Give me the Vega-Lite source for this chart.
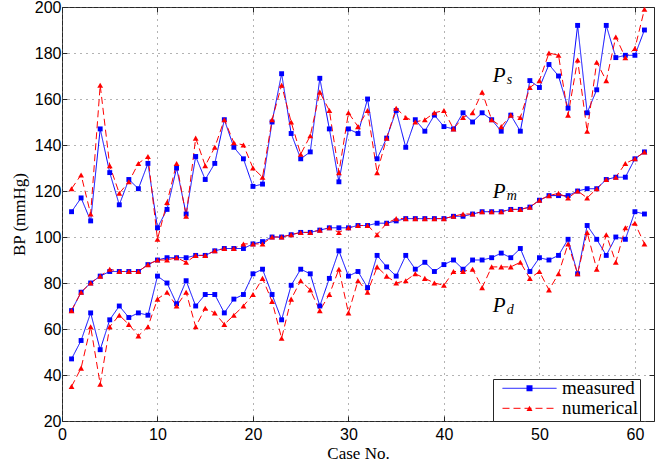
{
  "$schema": "https://vega.github.io/schema/vega-lite/v6.json",
  "width": 592,
  "height": 414,
  "autosize": {"type": "none"},
  "padding": {"left": 62, "top": 7, "right": 1, "bottom": 43},
  "background": "white",
  "config": {"font": "Liberation Serif", "view": {"stroke": "#262626", "strokeWidth": 1}, "legend": {"labelFont": "Liberation Serif"}},
  "datasets": {
    "bp": [
      {"case":1,"series":"Ps","source":"measured","bp":111},{"case":2,"series":"Ps","source":"measured","bp":117},{"case":3,"series":"Ps","source":"measured","bp":107},{"case":4,"series":"Ps","source":"measured","bp":147},{"case":5,"series":"Ps","source":"measured","bp":128},{"case":6,"series":"Ps","source":"measured","bp":114},{"case":7,"series":"Ps","source":"measured","bp":125},{"case":8,"series":"Ps","source":"measured","bp":121},{"case":9,"series":"Ps","source":"measured","bp":132},{"case":10,"series":"Ps","source":"measured","bp":104},
      {"case":11,"series":"Ps","source":"measured","bp":112},{"case":12,"series":"Ps","source":"measured","bp":130},{"case":13,"series":"Ps","source":"measured","bp":110},{"case":14,"series":"Ps","source":"measured","bp":135},{"case":15,"series":"Ps","source":"measured","bp":125},{"case":16,"series":"Ps","source":"measured","bp":132},{"case":17,"series":"Ps","source":"measured","bp":151},{"case":18,"series":"Ps","source":"measured","bp":139},{"case":19,"series":"Ps","source":"measured","bp":134},{"case":20,"series":"Ps","source":"measured","bp":122},
      {"case":21,"series":"Ps","source":"measured","bp":123},{"case":22,"series":"Ps","source":"measured","bp":150},{"case":23,"series":"Ps","source":"measured","bp":171},{"case":24,"series":"Ps","source":"measured","bp":145},{"case":25,"series":"Ps","source":"measured","bp":134},{"case":26,"series":"Ps","source":"measured","bp":137},{"case":27,"series":"Ps","source":"measured","bp":169},{"case":28,"series":"Ps","source":"measured","bp":147},{"case":29,"series":"Ps","source":"measured","bp":124},{"case":30,"series":"Ps","source":"measured","bp":147},
      {"case":31,"series":"Ps","source":"measured","bp":145},{"case":32,"series":"Ps","source":"measured","bp":160},{"case":33,"series":"Ps","source":"measured","bp":134},{"case":34,"series":"Ps","source":"measured","bp":143},{"case":35,"series":"Ps","source":"measured","bp":155},{"case":36,"series":"Ps","source":"measured","bp":139},{"case":37,"series":"Ps","source":"measured","bp":151},{"case":38,"series":"Ps","source":"measured","bp":146},{"case":39,"series":"Ps","source":"measured","bp":153},{"case":40,"series":"Ps","source":"measured","bp":148},
      {"case":41,"series":"Ps","source":"measured","bp":147},{"case":42,"series":"Ps","source":"measured","bp":154},{"case":43,"series":"Ps","source":"measured","bp":150},{"case":44,"series":"Ps","source":"measured","bp":154},{"case":45,"series":"Ps","source":"measured","bp":151},{"case":46,"series":"Ps","source":"measured","bp":146},{"case":47,"series":"Ps","source":"measured","bp":153},{"case":48,"series":"Ps","source":"measured","bp":146},{"case":49,"series":"Ps","source":"measured","bp":168},{"case":50,"series":"Ps","source":"measured","bp":165},
      {"case":51,"series":"Ps","source":"measured","bp":175},{"case":52,"series":"Ps","source":"measured","bp":170},{"case":53,"series":"Ps","source":"measured","bp":156},{"case":54,"series":"Ps","source":"measured","bp":192},{"case":55,"series":"Ps","source":"measured","bp":154},{"case":56,"series":"Ps","source":"measured","bp":164},{"case":57,"series":"Ps","source":"measured","bp":192},{"case":58,"series":"Ps","source":"measured","bp":178},{"case":59,"series":"Ps","source":"measured","bp":179},{"case":60,"series":"Ps","source":"measured","bp":179},{"case":61,"series":"Ps","source":"measured","bp":190},

      {"case":1,"series":"Pm","source":"measured","bp":68},{"case":2,"series":"Pm","source":"measured","bp":76},{"case":3,"series":"Pm","source":"measured","bp":80},{"case":4,"series":"Pm","source":"measured","bp":83},{"case":5,"series":"Pm","source":"measured","bp":85},{"case":6,"series":"Pm","source":"measured","bp":85},{"case":7,"series":"Pm","source":"measured","bp":85},{"case":8,"series":"Pm","source":"measured","bp":85},{"case":9,"series":"Pm","source":"measured","bp":88},{"case":10,"series":"Pm","source":"measured","bp":90},
      {"case":11,"series":"Pm","source":"measured","bp":91},{"case":12,"series":"Pm","source":"measured","bp":91},{"case":13,"series":"Pm","source":"measured","bp":91},{"case":14,"series":"Pm","source":"measured","bp":92},{"case":15,"series":"Pm","source":"measured","bp":92},{"case":16,"series":"Pm","source":"measured","bp":94},{"case":17,"series":"Pm","source":"measured","bp":95},{"case":18,"series":"Pm","source":"measured","bp":95},{"case":19,"series":"Pm","source":"measured","bp":95},{"case":20,"series":"Pm","source":"measured","bp":97},
      {"case":21,"series":"Pm","source":"measured","bp":98},{"case":22,"series":"Pm","source":"measured","bp":100},{"case":23,"series":"Pm","source":"measured","bp":100},{"case":24,"series":"Pm","source":"measured","bp":101},{"case":25,"series":"Pm","source":"measured","bp":102},{"case":26,"series":"Pm","source":"measured","bp":102},{"case":27,"series":"Pm","source":"measured","bp":103},{"case":28,"series":"Pm","source":"measured","bp":104},{"case":29,"series":"Pm","source":"measured","bp":104},{"case":30,"series":"Pm","source":"measured","bp":104},
      {"case":31,"series":"Pm","source":"measured","bp":105},{"case":32,"series":"Pm","source":"measured","bp":105},{"case":33,"series":"Pm","source":"measured","bp":106},{"case":34,"series":"Pm","source":"measured","bp":106},{"case":35,"series":"Pm","source":"measured","bp":107},{"case":36,"series":"Pm","source":"measured","bp":108},{"case":37,"series":"Pm","source":"measured","bp":108},{"case":38,"series":"Pm","source":"measured","bp":108},{"case":39,"series":"Pm","source":"measured","bp":108},{"case":40,"series":"Pm","source":"measured","bp":108},
      {"case":41,"series":"Pm","source":"measured","bp":109},{"case":42,"series":"Pm","source":"measured","bp":109},{"case":43,"series":"Pm","source":"measured","bp":110},{"case":44,"series":"Pm","source":"measured","bp":111},{"case":45,"series":"Pm","source":"measured","bp":111},{"case":46,"series":"Pm","source":"measured","bp":111},{"case":47,"series":"Pm","source":"measured","bp":112},{"case":48,"series":"Pm","source":"measured","bp":112},{"case":49,"series":"Pm","source":"measured","bp":113},{"case":50,"series":"Pm","source":"measured","bp":116},
      {"case":51,"series":"Pm","source":"measured","bp":118},{"case":52,"series":"Pm","source":"measured","bp":118},{"case":53,"series":"Pm","source":"measured","bp":118},{"case":54,"series":"Pm","source":"measured","bp":120},{"case":55,"series":"Pm","source":"measured","bp":121},{"case":56,"series":"Pm","source":"measured","bp":121},{"case":57,"series":"Pm","source":"measured","bp":125},{"case":58,"series":"Pm","source":"measured","bp":126},{"case":59,"series":"Pm","source":"measured","bp":126},{"case":60,"series":"Pm","source":"measured","bp":134},{"case":61,"series":"Pm","source":"measured","bp":137},

      {"case":1,"series":"Pd","source":"measured","bp":47},{"case":2,"series":"Pd","source":"measured","bp":55},{"case":3,"series":"Pd","source":"measured","bp":67},{"case":4,"series":"Pd","source":"measured","bp":51},{"case":5,"series":"Pd","source":"measured","bp":64},{"case":6,"series":"Pd","source":"measured","bp":70},{"case":7,"series":"Pd","source":"measured","bp":65},{"case":8,"series":"Pd","source":"measured","bp":67},{"case":9,"series":"Pd","source":"measured","bp":66},{"case":10,"series":"Pd","source":"measured","bp":83},
      {"case":11,"series":"Pd","source":"measured","bp":80},{"case":12,"series":"Pd","source":"measured","bp":71},{"case":13,"series":"Pd","source":"measured","bp":81},{"case":14,"series":"Pd","source":"measured","bp":70},{"case":15,"series":"Pd","source":"measured","bp":75},{"case":16,"series":"Pd","source":"measured","bp":75},{"case":17,"series":"Pd","source":"measured","bp":67},{"case":18,"series":"Pd","source":"measured","bp":73},{"case":19,"series":"Pd","source":"measured","bp":75},{"case":20,"series":"Pd","source":"measured","bp":84},
      {"case":21,"series":"Pd","source":"measured","bp":86},{"case":22,"series":"Pd","source":"measured","bp":75},{"case":23,"series":"Pd","source":"measured","bp":64},{"case":24,"series":"Pd","source":"measured","bp":79},{"case":25,"series":"Pd","source":"measured","bp":86},{"case":26,"series":"Pd","source":"measured","bp":84},{"case":27,"series":"Pd","source":"measured","bp":70},{"case":28,"series":"Pd","source":"measured","bp":82},{"case":29,"series":"Pd","source":"measured","bp":94},{"case":30,"series":"Pd","source":"measured","bp":83},
      {"case":31,"series":"Pd","source":"measured","bp":85},{"case":32,"series":"Pd","source":"measured","bp":78},{"case":33,"series":"Pd","source":"measured","bp":92},{"case":34,"series":"Pd","source":"measured","bp":87},{"case":35,"series":"Pd","source":"measured","bp":83},{"case":36,"series":"Pd","source":"measured","bp":92},{"case":37,"series":"Pd","source":"measured","bp":86},{"case":38,"series":"Pd","source":"measured","bp":89},{"case":39,"series":"Pd","source":"measured","bp":85},{"case":40,"series":"Pd","source":"measured","bp":88},
      {"case":41,"series":"Pd","source":"measured","bp":90},{"case":42,"series":"Pd","source":"measured","bp":86},{"case":43,"series":"Pd","source":"measured","bp":90},{"case":44,"series":"Pd","source":"measured","bp":90},{"case":45,"series":"Pd","source":"measured","bp":91},{"case":46,"series":"Pd","source":"measured","bp":93},{"case":47,"series":"Pd","source":"measured","bp":91},{"case":48,"series":"Pd","source":"measured","bp":95},{"case":49,"series":"Pd","source":"measured","bp":85},{"case":50,"series":"Pd","source":"measured","bp":91},
      {"case":51,"series":"Pd","source":"measured","bp":90},{"case":52,"series":"Pd","source":"measured","bp":92},{"case":53,"series":"Pd","source":"measured","bp":99},{"case":54,"series":"Pd","source":"measured","bp":84},{"case":55,"series":"Pd","source":"measured","bp":105},{"case":56,"series":"Pd","source":"measured","bp":99},{"case":57,"series":"Pd","source":"measured","bp":92},{"case":58,"series":"Pd","source":"measured","bp":100},{"case":59,"series":"Pd","source":"measured","bp":99},{"case":60,"series":"Pd","source":"measured","bp":111},{"case":61,"series":"Pd","source":"measured","bp":110},

      {"case":1,"series":"Ps","source":"numerical","bp":121},{"case":2,"series":"Ps","source":"numerical","bp":127},{"case":3,"series":"Ps","source":"numerical","bp":110},{"case":4,"series":"Ps","source":"numerical","bp":166},{"case":5,"series":"Ps","source":"numerical","bp":131},{"case":6,"series":"Ps","source":"numerical","bp":119},{"case":7,"series":"Ps","source":"numerical","bp":124},{"case":8,"series":"Ps","source":"numerical","bp":132},{"case":9,"series":"Ps","source":"numerical","bp":135},{"case":10,"series":"Ps","source":"numerical","bp":99},
      {"case":11,"series":"Ps","source":"numerical","bp":115},{"case":12,"series":"Ps","source":"numerical","bp":132},{"case":13,"series":"Ps","source":"numerical","bp":109},{"case":14,"series":"Ps","source":"numerical","bp":143},{"case":15,"series":"Ps","source":"numerical","bp":131},{"case":16,"series":"Ps","source":"numerical","bp":139},{"case":17,"series":"Ps","source":"numerical","bp":151},{"case":18,"series":"Ps","source":"numerical","bp":141},{"case":19,"series":"Ps","source":"numerical","bp":140},{"case":20,"series":"Ps","source":"numerical","bp":130},
      {"case":21,"series":"Ps","source":"numerical","bp":126},{"case":22,"series":"Ps","source":"numerical","bp":151},{"case":23,"series":"Ps","source":"numerical","bp":166},{"case":24,"series":"Ps","source":"numerical","bp":150},{"case":25,"series":"Ps","source":"numerical","bp":136},{"case":26,"series":"Ps","source":"numerical","bp":144},{"case":27,"series":"Ps","source":"numerical","bp":163},{"case":28,"series":"Ps","source":"numerical","bp":155},{"case":29,"series":"Ps","source":"numerical","bp":128},{"case":30,"series":"Ps","source":"numerical","bp":154},
      {"case":31,"series":"Ps","source":"numerical","bp":148},{"case":32,"series":"Ps","source":"numerical","bp":155},{"case":33,"series":"Ps","source":"numerical","bp":128},{"case":34,"series":"Ps","source":"numerical","bp":143},{"case":35,"series":"Ps","source":"numerical","bp":156},{"case":36,"series":"Ps","source":"numerical","bp":152},{"case":37,"series":"Ps","source":"numerical","bp":150},{"case":38,"series":"Ps","source":"numerical","bp":151},{"case":39,"series":"Ps","source":"numerical","bp":154},{"case":40,"series":"Ps","source":"numerical","bp":155},
      {"case":41,"series":"Ps","source":"numerical","bp":147},{"case":42,"series":"Ps","source":"numerical","bp":152},{"case":43,"series":"Ps","source":"numerical","bp":154},{"case":44,"series":"Ps","source":"numerical","bp":163},{"case":45,"series":"Ps","source":"numerical","bp":151},{"case":46,"series":"Ps","source":"numerical","bp":148},{"case":47,"series":"Ps","source":"numerical","bp":153},{"case":48,"series":"Ps","source":"numerical","bp":152},{"case":49,"series":"Ps","source":"numerical","bp":165},{"case":50,"series":"Ps","source":"numerical","bp":168},
      {"case":51,"series":"Ps","source":"numerical","bp":180},{"case":52,"series":"Ps","source":"numerical","bp":179},{"case":53,"series":"Ps","source":"numerical","bp":153},{"case":54,"series":"Ps","source":"numerical","bp":177},{"case":55,"series":"Ps","source":"numerical","bp":146},{"case":56,"series":"Ps","source":"numerical","bp":176},{"case":57,"series":"Ps","source":"numerical","bp":168},{"case":58,"series":"Ps","source":"numerical","bp":187},{"case":59,"series":"Ps","source":"numerical","bp":178},{"case":60,"series":"Ps","source":"numerical","bp":182},{"case":61,"series":"Ps","source":"numerical","bp":199},

      {"case":1,"series":"Pm","source":"numerical","bp":68},{"case":2,"series":"Pm","source":"numerical","bp":76},{"case":3,"series":"Pm","source":"numerical","bp":80},{"case":4,"series":"Pm","source":"numerical","bp":83},{"case":5,"series":"Pm","source":"numerical","bp":86},{"case":6,"series":"Pm","source":"numerical","bp":85},{"case":7,"series":"Pm","source":"numerical","bp":85},{"case":8,"series":"Pm","source":"numerical","bp":85},{"case":9,"series":"Pm","source":"numerical","bp":88},{"case":10,"series":"Pm","source":"numerical","bp":90},
      {"case":11,"series":"Pm","source":"numerical","bp":90},{"case":12,"series":"Pm","source":"numerical","bp":91},{"case":13,"series":"Pm","source":"numerical","bp":89},{"case":14,"series":"Pm","source":"numerical","bp":92},{"case":15,"series":"Pm","source":"numerical","bp":92},{"case":16,"series":"Pm","source":"numerical","bp":94},{"case":17,"series":"Pm","source":"numerical","bp":95},{"case":18,"series":"Pm","source":"numerical","bp":95},{"case":19,"series":"Pm","source":"numerical","bp":97},{"case":20,"series":"Pm","source":"numerical","bp":97},
      {"case":21,"series":"Pm","source":"numerical","bp":97},{"case":22,"series":"Pm","source":"numerical","bp":100},{"case":23,"series":"Pm","source":"numerical","bp":100},{"case":24,"series":"Pm","source":"numerical","bp":101},{"case":25,"series":"Pm","source":"numerical","bp":102},{"case":26,"series":"Pm","source":"numerical","bp":102},{"case":27,"series":"Pm","source":"numerical","bp":103},{"case":28,"series":"Pm","source":"numerical","bp":104},{"case":29,"series":"Pm","source":"numerical","bp":102},{"case":30,"series":"Pm","source":"numerical","bp":104},
      {"case":31,"series":"Pm","source":"numerical","bp":105},{"case":32,"series":"Pm","source":"numerical","bp":105},{"case":33,"series":"Pm","source":"numerical","bp":101},{"case":34,"series":"Pm","source":"numerical","bp":106},{"case":35,"series":"Pm","source":"numerical","bp":108},{"case":36,"series":"Pm","source":"numerical","bp":108},{"case":37,"series":"Pm","source":"numerical","bp":108},{"case":38,"series":"Pm","source":"numerical","bp":108},{"case":39,"series":"Pm","source":"numerical","bp":108},{"case":40,"series":"Pm","source":"numerical","bp":108},
      {"case":41,"series":"Pm","source":"numerical","bp":109},{"case":42,"series":"Pm","source":"numerical","bp":110},{"case":43,"series":"Pm","source":"numerical","bp":110},{"case":44,"series":"Pm","source":"numerical","bp":111},{"case":45,"series":"Pm","source":"numerical","bp":111},{"case":46,"series":"Pm","source":"numerical","bp":111},{"case":47,"series":"Pm","source":"numerical","bp":112},{"case":48,"series":"Pm","source":"numerical","bp":112},{"case":49,"series":"Pm","source":"numerical","bp":113},{"case":50,"series":"Pm","source":"numerical","bp":116},
      {"case":51,"series":"Pm","source":"numerical","bp":118},{"case":52,"series":"Pm","source":"numerical","bp":119},{"case":53,"series":"Pm","source":"numerical","bp":117},{"case":54,"series":"Pm","source":"numerical","bp":120},{"case":55,"series":"Pm","source":"numerical","bp":117},{"case":56,"series":"Pm","source":"numerical","bp":121},{"case":57,"series":"Pm","source":"numerical","bp":125},{"case":58,"series":"Pm","source":"numerical","bp":126},{"case":59,"series":"Pm","source":"numerical","bp":132},{"case":60,"series":"Pm","source":"numerical","bp":134},{"case":61,"series":"Pm","source":"numerical","bp":137},

      {"case":1,"series":"Pd","source":"numerical","bp":35},{"case":2,"series":"Pd","source":"numerical","bp":43},{"case":3,"series":"Pd","source":"numerical","bp":61},{"case":4,"series":"Pd","source":"numerical","bp":36},{"case":5,"series":"Pd","source":"numerical","bp":61},{"case":6,"series":"Pd","source":"numerical","bp":66},{"case":7,"series":"Pd","source":"numerical","bp":62},{"case":8,"series":"Pd","source":"numerical","bp":57},{"case":9,"series":"Pd","source":"numerical","bp":61},{"case":10,"series":"Pd","source":"numerical","bp":73},
      {"case":11,"series":"Pd","source":"numerical","bp":76},{"case":12,"series":"Pd","source":"numerical","bp":70},{"case":13,"series":"Pd","source":"numerical","bp":76},{"case":14,"series":"Pd","source":"numerical","bp":61},{"case":15,"series":"Pd","source":"numerical","bp":69},{"case":16,"series":"Pd","source":"numerical","bp":67},{"case":17,"series":"Pd","source":"numerical","bp":62},{"case":18,"series":"Pd","source":"numerical","bp":66},{"case":19,"series":"Pd","source":"numerical","bp":70},{"case":20,"series":"Pd","source":"numerical","bp":75},
      {"case":21,"series":"Pd","source":"numerical","bp":82},{"case":22,"series":"Pd","source":"numerical","bp":72},{"case":23,"series":"Pd","source":"numerical","bp":56},{"case":24,"series":"Pd","source":"numerical","bp":73},{"case":25,"series":"Pd","source":"numerical","bp":81},{"case":26,"series":"Pd","source":"numerical","bp":77},{"case":27,"series":"Pd","source":"numerical","bp":68},{"case":28,"series":"Pd","source":"numerical","bp":75},{"case":29,"series":"Pd","source":"numerical","bp":86},{"case":30,"series":"Pd","source":"numerical","bp":67},
      {"case":31,"series":"Pd","source":"numerical","bp":81},{"case":32,"series":"Pd","source":"numerical","bp":76},{"case":33,"series":"Pd","source":"numerical","bp":87},{"case":34,"series":"Pd","source":"numerical","bp":83},{"case":35,"series":"Pd","source":"numerical","bp":80},{"case":36,"series":"Pd","source":"numerical","bp":81},{"case":37,"series":"Pd","source":"numerical","bp":84},{"case":38,"series":"Pd","source":"numerical","bp":82},{"case":39,"series":"Pd","source":"numerical","bp":80},{"case":40,"series":"Pd","source":"numerical","bp":79},
      {"case":41,"series":"Pd","source":"numerical","bp":85},{"case":42,"series":"Pd","source":"numerical","bp":85},{"case":43,"series":"Pd","source":"numerical","bp":86},{"case":44,"series":"Pd","source":"numerical","bp":78},{"case":45,"series":"Pd","source":"numerical","bp":87},{"case":46,"series":"Pd","source":"numerical","bp":87},{"case":47,"series":"Pd","source":"numerical","bp":87},{"case":48,"series":"Pd","source":"numerical","bp":89},{"case":49,"series":"Pd","source":"numerical","bp":82},{"case":50,"series":"Pd","source":"numerical","bp":85},
      {"case":51,"series":"Pd","source":"numerical","bp":77},{"case":52,"series":"Pd","source":"numerical","bp":84},{"case":53,"series":"Pd","source":"numerical","bp":97},{"case":54,"series":"Pd","source":"numerical","bp":84},{"case":55,"series":"Pd","source":"numerical","bp":102},{"case":56,"series":"Pd","source":"numerical","bp":86},{"case":57,"series":"Pd","source":"numerical","bp":101},{"case":58,"series":"Pd","source":"numerical","bp":89},{"case":59,"series":"Pd","source":"numerical","bp":104},{"case":60,"series":"Pd","source":"numerical","bp":106},{"case":61,"series":"Pd","source":"numerical","bp":97}
    ],
    "labels": [
      {"case": 45.1, "bp": 167.4, "main": "P", "sub": "s"},
      {"case": 45.1, "bp": 117.0, "main": "P", "sub": "m"},
      {"case": 45.1, "bp": 67.4, "main": "P", "sub": "d"}
    ]
  },
  "data": {"name": "bp"},
  "layer": [
    {
      "mark": {"type": "line", "strokeWidth": 1},
      "encoding": {
        "x": {
          "field": "case", "type": "quantitative",
          "scale": {"domain": [0, 62], "nice": false, "zero": false},
          "axis": {
            "values": [0, 10, 20, 30, 40, 50, 60], "title": "Case No.",
            "grid": true, "gridColor": "#666666", "gridDash": [1, 5], "gridWidth": 1,
            "domain": false, "tickSize": -5, "tickColor": "#262626",
            "labelFont": "Liberation Sans", "labelFontSize": 16, "labelColor": "black", "labelPadding": 10, "labelFlush": false,
            "titleFont": "Liberation Serif", "titleFontSize": 17, "titleFontWeight": "normal", "titleColor": "black", "titlePadding": 3
          }
        },
        "y": {
          "field": "bp", "type": "quantitative",
          "scale": {"domain": [20, 200], "nice": false, "zero": false},
          "axis": {
            "values": [20, 40, 60, 80, 100, 120, 140, 160, 180, 200], "title": "BP (mmHg)",
            "grid": true, "gridColor": "#666666", "gridDash": [1, 5], "gridWidth": 1,
            "domain": false, "tickSize": -5, "tickColor": "#262626",
            "labelFont": "Liberation Sans", "labelFontSize": 16, "labelColor": "black", "labelPadding": 6, "labelFlush": false,
            "titleFont": "Liberation Serif", "titleFontSize": 17, "titleFontWeight": "normal", "titleColor": "black", "titlePadding": 6
          }
        },
        "detail": {"field": "series"},
        "stroke": {
          "field": "source", "type": "nominal",
          "scale": {"domain": ["measured", "numerical"], "range": ["#0000ff", "#ff0000"]},
          "legend": {"title": null, "orient": "none", "legendX": 431, "legendY": 372, "symbolType": "M-9,0H9", "symbolSize": 36, "symbolStrokeWidth": 1, "symbolOffset": 25, "labelOffset": 23, "labelFont": "Liberation Serif", "labelFontSize": 19, "labelColor": "black", "padding": 2, "rowPadding": 0, "clipHeight": 14.6, "labelLimit": 200, "strokeColor": "#262626", "fillColor": "white"}
        },
        "strokeDash": {
          "field": "source", "type": "nominal",
          "scale": {"domain": ["measured", "numerical"], "range": [[1, 0], [7, 4]]},
          "legend": {"title": null, "orient": "none", "legendX": 431, "legendY": 372, "symbolType": "M-9,0H9", "symbolSize": 36, "symbolStrokeWidth": 1, "symbolOffset": 25, "labelOffset": 23, "labelFont": "Liberation Serif", "labelFontSize": 19, "labelColor": "black", "padding": 2, "rowPadding": 0, "clipHeight": 14.6, "labelLimit": 200, "strokeColor": "#262626", "fillColor": "white"}
        }
      }
    },
    {
      "transform": [{"filter": {"field": "source", "equal": "measured"}}],
      "mark": {"type": "point", "filled": true, "opacity": 1, "strokeWidth": 0, "size": 24},
      "encoding": {
        "x": {"field": "case", "type": "quantitative", "axis": null},
        "y": {"field": "bp", "type": "quantitative", "axis": null},
        "fill": {
          "field": "source", "type": "nominal",
          "scale": {"range": ["#0000ff", "#ff0000"]},
          "legend": {"title": null, "orient": "none", "legendX": 431, "legendY": 372, "symbolSize": 36, "symbolStrokeWidth": 0, "symbolOffset": 25, "labelOffset": 23, "labelExpr": "''", "labelFontSize": 19, "padding": 2, "rowPadding": 0, "clipHeight": 14.6}
        },
        "shape": {
          "field": "source", "type": "nominal",
          "scale": {"range": ["square", "triangle-up"]},
          "legend": {"title": null, "orient": "none", "legendX": 431, "legendY": 372, "symbolSize": 36, "symbolStrokeWidth": 0, "symbolOffset": 25, "labelOffset": 23, "labelExpr": "''", "labelFontSize": 19, "padding": 2, "rowPadding": 0, "clipHeight": 14.6}
        }
      }
    },
    {
      "transform": [{"filter": {"field": "source", "equal": "numerical"}}],
      "mark": {"type": "point", "filled": true, "opacity": 1, "strokeWidth": 0, "size": 34},
      "encoding": {
        "x": {"field": "case", "type": "quantitative", "axis": null},
        "y": {"field": "bp", "type": "quantitative", "axis": null},
        "fill": {
          "field": "source", "type": "nominal",
          "legend": {"title": null, "orient": "none", "legendX": 431, "legendY": 372, "symbolSize": 36, "symbolStrokeWidth": 0, "symbolOffset": 25, "labelOffset": 23, "labelExpr": "''", "labelFontSize": 19, "padding": 2, "rowPadding": 0, "clipHeight": 14.6}
        },
        "shape": {
          "field": "source", "type": "nominal",
          "legend": {"title": null, "orient": "none", "legendX": 431, "legendY": 372, "symbolSize": 36, "symbolStrokeWidth": 0, "symbolOffset": 25, "labelOffset": 23, "labelExpr": "''", "labelFontSize": 19, "padding": 2, "rowPadding": 0, "clipHeight": 14.6}
        }
      }
    },
    {
      "data": {"name": "labels"},
      "mark": {"type": "text", "font": "Liberation Serif", "fontStyle": "italic", "fontSize": 21, "align": "left", "baseline": "alphabetic", "color": "black"},
      "encoding": {
        "x": {"field": "case", "type": "quantitative", "axis": {"orient": "top", "values": [0, 10, 20, 30, 40, 50, 60], "labels": false, "title": null, "grid": false, "domain": false, "tickSize": -5, "tickColor": "#262626"}},
        "y": {"field": "bp", "type": "quantitative", "axis": {"orient": "right", "values": [20, 40, 60, 80, 100, 120, 140, 160, 180, 200], "labels": false, "title": null, "grid": false, "domain": false, "tickSize": -5, "tickColor": "#262626"}},
        "text": {"field": "main"}
      }
    },
    {
      "data": {"name": "labels"},
      "mark": {"type": "text", "font": "Liberation Serif", "fontStyle": "italic", "fontSize": 14, "align": "left", "baseline": "alphabetic", "dx": 14, "dy": 2, "color": "black"},
      "encoding": {
        "x": {"field": "case", "type": "quantitative", "axis": null},
        "y": {"field": "bp", "type": "quantitative", "axis": null},
        "text": {"field": "sub"}
      }
    }
  ],
  "resolve": {"axis": {"x": "independent", "y": "independent"}}
}
